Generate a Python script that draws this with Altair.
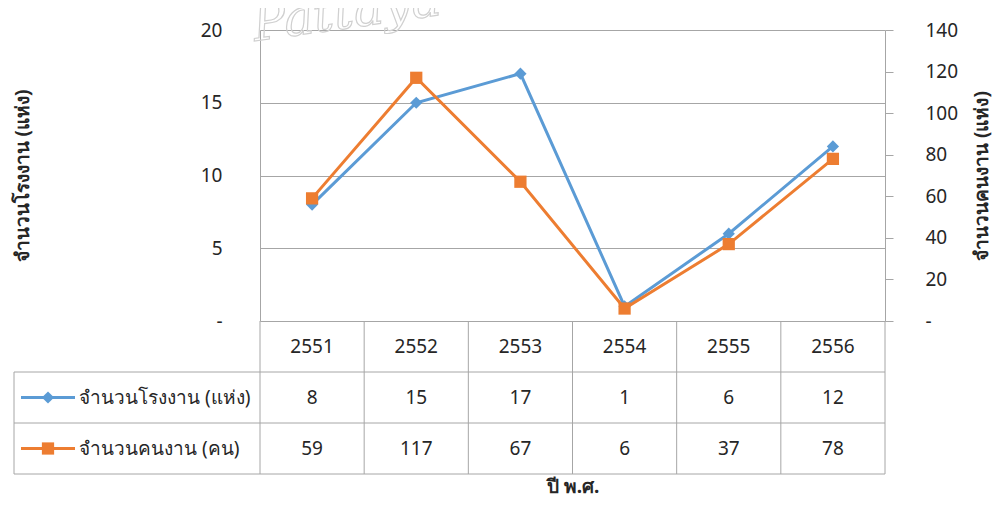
import altair as alt
import pandas as pd

years = ["2551", "2552", "2553", "2554", "2555", "2556"]
factories = [8, 15, 17, 1, 6, 12]
workers = [59, 117, 67, 6, 37, 78]

series1 = "จำนวนโรงงาน (แห่ง)"
series2 = "จำนวนคนงาน (คน)"
left_title = "จำนวนโรงงาน (แห่ง)"
right_title = "จำนวนคนงาน (แห่ง)"
x_title = "ปี พ.ศ."
left_ticks = [0, 5, 10, 15, 20]
right_ticks = [0, 20, 40, 60, 80, 100, 120, 140]

BLUE = "#5B9BD5"
ORANGE = "#ED7D31"
GRID = "#A6A6A6"
TXT = "#262626"
FONT = "Noto Sans"

df = pd.DataFrame({"year": years, "factories": factories, "workers": workers})
one = pd.DataFrame({"k": [0]})

W, H = 625, 291

xscale = alt.Scale(type="band", paddingInner=0, paddingOuter=0, domain=years)
xaxis = alt.Axis(labels=False, ticks=False, domain=False, grid=False,
                 title=x_title, titleFont=FONT, titleFontSize=19,
                 titleFontWeight="bold", titleColor=TXT,
                 titleX=W / 2, titleY=165, titleBaseline="middle",
                 titleAlign="center")


def xenc(**kw):
    return alt.X("year:N", sort=years, scale=xscale, axis=xaxis, **kw)


# watermark
wm = alt.Chart(one).mark_text(
    text="Pattaya", font="DejaVu Serif", fontStyle="italic", fontSize=50,
    align="left", baseline="alphabetic", angle=352, fillOpacity=0,
    stroke="#D0D0D0", strokeWidth=1.2
).encode(x=alt.value(-5), y=alt.value(11))

left_scale = alt.Scale(domain=[0, 20], nice=False, zero=True)
right_scale = alt.Scale(domain=[0, 140], nice=False, zero=True)

left_axis = alt.Axis(orient="left", values=left_ticks, grid=True,
                     gridColor=GRID, gridWidth=1, domain=True,
                     domainColor=GRID, ticks=False, tickSize=0,
                     labelPadding=38, labelFont=FONT, labelFontSize=19,
                     labelColor=TXT,
                     labelExpr="datum.value == 0 ? '-' : datum.label",
                     title=left_title, titleFont=FONT, titleFontSize=19,
                     titleFontWeight="bold", titleColor=TXT,
                     titleAngle=270, titleX=-238, titleY=H / 2,
                     titleAlign="center", titleBaseline="middle")
right_axis = alt.Axis(orient="right", values=right_ticks, grid=False,
                      domain=True, domainColor=GRID, ticks=True,
                      tickSize=8, tickColor=GRID,
                      labelPadding=32, labelFont=FONT, labelFontSize=19,
                      labelColor=TXT,
                      labelExpr="datum.value == 0 ? '-' : datum.label",
                      title=right_title, titleFont=FONT, titleFontSize=19,
                      titleFontWeight="bold", titleColor=TXT,
                      titleAngle=270, titleX=96, titleY=H / 2,
                      titleAlign="center", titleBaseline="middle")

blue_line = alt.Chart(df).mark_line(color=BLUE, strokeWidth=3).encode(
    x=xenc(), y=alt.Y("factories:Q", scale=left_scale, axis=left_axis))
blue_pts = alt.Chart(df).mark_point(shape="diamond", filled=True, color=BLUE,
                                    size=150, opacity=1).encode(
    x=xenc(), y=alt.Y("factories:Q", scale=left_scale, axis=left_axis))
blue = alt.layer(blue_line, blue_pts)

orange_line = alt.Chart(df).mark_line(color=ORANGE, strokeWidth=3).encode(
    x=xenc(), y=alt.Y("workers:Q", scale=right_scale, axis=right_axis))
orange_pts = alt.Chart(df).mark_point(shape="square", filled=True, color=ORANGE,
                                      size=150, opacity=1).encode(
    x=xenc(), y=alt.Y("workers:Q", scale=right_scale, axis=right_axis))
orange = alt.layer(orange_line, orange_pts)

# data table
vlines = alt.Chart(df).mark_rule(color=GRID, strokeWidth=1).encode(
    x=xenc(bandPosition=0), y=alt.value(H), y2=alt.value(444))
right_edge = alt.Chart(one).mark_rule(color=GRID, strokeWidth=1).encode(
    x=alt.value(W), y=alt.value(H), y2=alt.value(444))
left_edge = alt.Chart(one).mark_rule(color=GRID, strokeWidth=1).encode(
    x=alt.value(-246), y=alt.value(342), y2=alt.value(444))
hlines = [
    alt.Chart(one).mark_rule(color=GRID, strokeWidth=1).encode(
        x=alt.value(-246), x2=alt.value(W), y=alt.value(yy))
    for yy in (342, 393, 444)
]

txt_kw = dict(font=FONT, fontSize=19, color=TXT, align="center", baseline="middle")
hdr = alt.Chart(df).mark_text(**txt_kw).encode(
    x=xenc(), y=alt.value(316.5), text="year:N")
row1 = alt.Chart(df).mark_text(**txt_kw).encode(
    x=xenc(), y=alt.value(367.5), text="factories:Q")
row2 = alt.Chart(df).mark_text(**txt_kw).encode(
    x=xenc(), y=alt.value(418.5), text="workers:Q")

# legend keys in the table
leg = []
for yy, col, shape, name in ((367.5, BLUE, "diamond", series1),
                             (418.5, ORANGE, "square", series2)):
    leg.append(alt.Chart(one).mark_rule(color=col, strokeWidth=3).encode(
        x=alt.value(-239), x2=alt.value(-185), y=alt.value(yy)))
    leg.append(alt.Chart(one).mark_point(shape=shape, filled=True, color=col,
                                         size=150, opacity=1).encode(
        x=alt.value(-212), y=alt.value(yy)))
    leg.append(alt.Chart(one).mark_text(font=FONT, fontSize=19, color=TXT,
                                        align="left", baseline="middle",
                                        text=name).encode(
        x=alt.value(-181), y=alt.value(yy)))

chart = alt.layer(
    wm, blue, orange, vlines, right_edge, left_edge, *hlines, hdr, row1, row2, *leg
).resolve_scale(y="independent").properties(
    width=W, height=H,
    autosize=alt.AutoSizeParams(type="none"),
    padding={"left": 252, "top": 22, "right": 107, "bottom": 179},
    background="white",
).configure_view(stroke=None)

chart.save("out.html", embed_options={"renderer": "svg", "actions": False})
